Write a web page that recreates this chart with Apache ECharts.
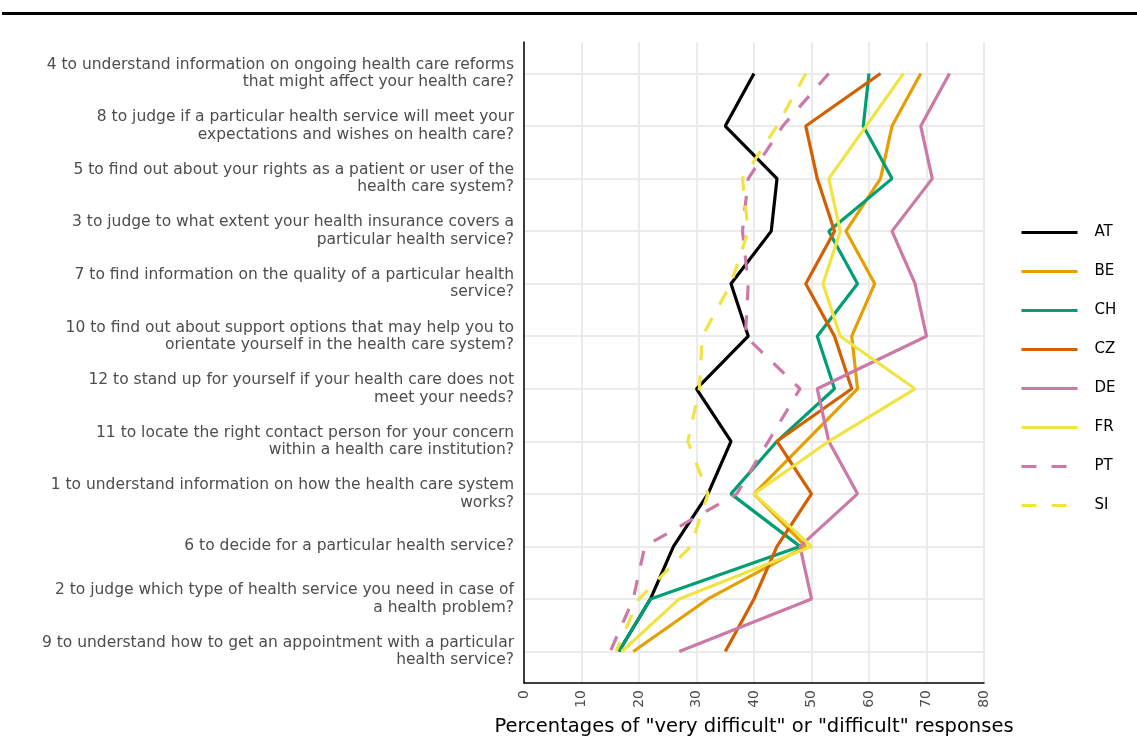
<!DOCTYPE html>
<html>
<head>
<meta charset="utf-8">
<script src="https://cdn.jsdelivr.net/npm/echarts@6/dist/echarts.min.js"></script>
<style>
  html, body { margin: 0; padding: 0; background: #fff; }
  #chart { width: 1137px; height: 744px; }
</style>
</head>
<body>
<div id="chart"></div>
<script>
// items, top to bottom
const questions = [
  '4 to understand information on ongoing health care reforms\nthat might affect your health care?',
  '8 to judge if a particular health service will meet your\nexpectations and wishes on health care?',
  '5 to find out about your rights as a patient or user of the\nhealth care system?',
  '3 to judge to what extent your health insurance covers a\nparticular health service?',
  '7 to find information on the quality of a particular health\nservice?',
  '10 to find out about support options that may help you to\norientate yourself in the health care system?',
  '12 to stand up for yourself if your health care does not\nmeet your needs?',
  '11 to locate the right contact person for your concern\nwithin a health care institution?',
  '1 to understand information on how the health care system\nworks?',
  '6 to decide for a particular health service?',
  '2 to judge which type of health service you need in case of\na health problem?',
  '9 to understand how to get an appointment with a particular\nhealth service?'
]
const rowIndex = [0, 1, 2, 3, 4, 5, 6, 7, 8, 9, 10, 11]
const xTicks = [0, 10, 20, 30, 40, 50, 60, 70, 80]

// % "very difficult" or "difficult", same order as questions
const AT = [40, 35, 44, 43, 36, 39, 30, 36, 32, 26, 22, 16.5]
const BE = [69, 64, 62, 56, 61, 57, 58, 49, 40, 49, 32, 19]
const CH = [60, 59, 64, 53, 58, 51, 54, 44, 36, 48, 22, 16.5]
const CZ = [62, 49, 51, 54, 49, 54, 57, 44, 50, 44, 40, 35]
const DE = [74, 69, 71, 64, 68, 70, 51, 53, 58, 48, 50, 27]
const FR = [66, 59.5, 53, 55, 52, 55, 68, 53, 40, 50, 27, 17]
const PT = [53, 45, 39, 38, 39, 38.5, 48, 42.5, 37, 21, 19, 15]
const SI = [49, 44, 38, 39, 36, 31, 30.5, 28.5, 32, 29, 20, 16]

const countries = [
  { name: 'AT', values: AT, color: '#000000', dashed: false },
  { name: 'BE', values: BE, color: '#E69F00', dashed: false },
  { name: 'CH', values: CH, color: '#009E73', dashed: false },
  { name: 'CZ', values: CZ, color: '#D55E00', dashed: false },
  { name: 'DE', values: DE, color: '#CC79A7', dashed: false },
  { name: 'FR', values: FR, color: '#F0E442', dashed: false },
  { name: 'PT', values: PT, color: '#CC79A7', dashed: true },
  { name: 'SI', values: SI, color: '#F0E442', dashed: true }
]

const font = 'DejaVu Sans, Verdana, sans-serif'
const chart = echarts.init(document.getElementById('chart'))

const option = {
  animation: false,
  backgroundColor: '#fff',
  graphic: [
    {
      type: 'rect',
      shape: { x: 2, y: 12, width: 1135, height: 3 },
      style: { fill: '#000' }
    }
  ],
  legend: {
    orient: 'vertical',
    left: 1020,
    top: 225,
    padding: 0,
    itemWidth: 56,
    itemHeight: 14,
    itemGap: 24,
    data: countries.map(c => c.name),
    itemStyle: { opacity: 0 },
    lineStyle: { width: 3 },
    textStyle: {
      fontFamily: font,
      fontSize: 15,
      lineHeight: 13,
      color: '#000',
      padding: [0, 0, 0, 12]
    }
  },
  grid: {
    left: 524,
    top: 42,
    width: 460,
    height: 641,
    containLabel: false
  },
  xAxis: {
    type: 'value',
    min: 0,
    max: 80,
    interval: 10,
    name: 'Percentages of "very difficult" or "difficult" responses',
    nameLocation: 'middle',
    nameGap: 34,
    nameTextStyle: { fontFamily: font, fontSize: 19.5, color: '#000' },
    axisLine: { show: true, onZero: false, lineStyle: { color: '#000', width: 1.5 } },
    axisTick: { show: false },
    axisLabel: {
      rotate: 90,
      margin: 7,
      fontFamily: font,
      fontSize: 14,
      color: '#4d4d4d'
    },
    splitLine: { show: true, lineStyle: { color: '#ebebeb', width: 2 } }
  },
  yAxis: {
    type: 'value',
    inverse: true,
    min: -0.6,
    max: 11.6,
    axisLine: { show: true, onZero: false, lineStyle: { color: '#000', width: 1.5 } },
    axisTick: { show: false, customValues: rowIndex },
    axisLabel: {
      customValues: rowIndex,
      margin: 10,
      fontFamily: font,
      fontSize: 15.5,
      lineHeight: 17.5,
      color: '#4d4d4d',
      align: 'right',
      formatter: v => questions[Math.round(v)] || ''
    },
    splitLine: { show: true, lineStyle: { color: '#ebebeb', width: 2 } }
  },
  series: countries.map(c => ({
    name: c.name,
    type: 'line',
    symbol: 'none',
    data: c.values.map((v, i) => [v, rowIndex[i]]),
    lineStyle: {
      color: c.color,
      width: 3.2,
      type: c.dashed ? [15, 15] : 'solid',
      cap: 'butt'
    },
    itemStyle: { color: c.color }
  }))
}

chart.setOption(option)
</script>
</body>
</html>
